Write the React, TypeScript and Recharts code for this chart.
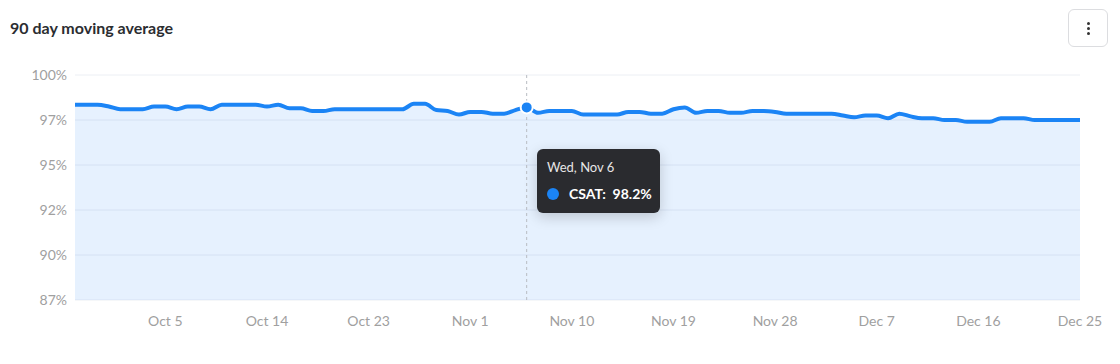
import { AreaChart, Area, XAxis, YAxis, CartesianGrid, Tooltip } from "recharts"

// 90 daily points, Sep 27 -> Dec 25 (2024)
const START = new Date(2024, 8, 27)
const MONTHS = ["Jan", "Feb", "Mar", "Apr", "May", "Jun", "Jul", "Aug", "Sep", "Oct", "Nov", "Dec"]
const WEEKDAYS = ["Sun", "Mon", "Tue", "Wed", "Thu", "Fri", "Sat"]

const csat = [
  98.35, 98.35, 98.35, 98.25, 98.1, 98.1, 98.1, 98.25, 98.25, 98.1,
  98.25, 98.25, 98.1, 98.35, 98.35, 98.35, 98.35, 98.25, 98.35, 98.15,
  98.15, 98.0, 98.0, 98.1, 98.1, 98.1, 98.1, 98.1, 98.1, 98.1,
  98.4, 98.4, 98.05, 98.0, 97.8, 97.95, 97.95, 97.85, 97.85, 98.05,
  98.2, 97.9, 98.0, 98.0, 98.0, 97.8, 97.8, 97.8, 97.8, 97.95,
  97.95, 97.85, 97.85, 98.1, 98.2, 97.9, 98.0, 98.0, 97.9, 97.9,
  98.0, 98.0, 97.95, 97.85, 97.85, 97.85, 97.85, 97.85, 97.75, 97.65,
  97.75, 97.75, 97.6, 97.85, 97.7, 97.6, 97.6, 97.5, 97.5, 97.4,
  97.4, 97.4, 97.6, 97.6, 97.6, 97.5, 97.5, 97.5, 97.5, 97.5,
]

const xTicks = ["Oct 5", "Oct 14", "Oct 23", "Nov 1", "Nov 10", "Nov 19", "Nov 28", "Dec 7", "Dec 16", "Dec 25"]
const yTicks = [87.5, 90, 92.5, 95, 97.5, 100]

const data = csat.map((value, i) => {
  const d = new Date(START.getFullYear(), START.getMonth(), START.getDate() + i)
  const label = `${MONTHS[d.getMonth()]} ${d.getDate()}`
  return { date: label, full: `${WEEKDAYS[d.getDay()]}, ${label}`, csat: value }
})

const BLUE = "#1b84f5"

function CsatTooltip({ active, payload }: any) {
  if (!active || !payload || !payload.length) return null
  const p = payload[0]
  return (
    <div
      style={{
        background: "#2a2b2f",
        borderRadius: 6,
        padding: "10px 10px",
        width: 123,
        height: 64,
        boxSizing: "border-box",
        boxShadow: "0 4px 14px rgba(0,0,0,0.18)",
        fontFamily: "Lato, sans-serif",
      }}
    >
      <div style={{ color: "#e6e6e6", fontSize: 13, lineHeight: "16px" }}>{p.payload.full}</div>
      <div style={{ display: "flex", alignItems: "center", marginTop: 10 }}>
        <span
          style={{ width: 12, height: 12, flex: "0 0 12px", borderRadius: "50%", background: BLUE, marginRight: 10 }}
        />
        <span style={{ color: "#fff", fontSize: 14, fontWeight: 700, whiteSpace: "pre" }}>
          {`CSAT:  ${p.value.toFixed(1)}%`}
        </span>
      </div>
    </div>
  )
}

export default function App() {
  return (
    <div
      style={{
        position: "absolute",
        left: 0,
        top: 0,
        width: 1120,
        height: 364,
        background: "#fff",
        fontFamily: "Lato, sans-serif",
      }}
    >
      <div style={{ position: "absolute", left: 10, top: 18, fontSize: 16, fontWeight: 700, color: "#2b2d31" }}>
        90 day moving average
      </div>
      <div
        style={{
          position: "absolute",
          left: 1068,
          top: 9,
          width: 40,
          height: 38,
          boxSizing: "border-box",
          border: "1px solid #dcdde0",
          borderRadius: 6,
          display: "flex",
          flexDirection: "column",
          alignItems: "center",
          justifyContent: "center",
          gap: 2,
        }}
      >
        {[0, 1, 2].map((k) => (
          <span key={k} style={{ width: 3, height: 3, borderRadius: 2, background: "#333" }} />
        ))}
      </div>
      <div style={{ position: "absolute", left: 0, top: 0 }}>
        <AreaChart width={1120} height={364} data={data} margin={{ top: 75, right: 40, bottom: 34, left: 0 }}>
          <CartesianGrid vertical={false} stroke="#eceff4" />
          <XAxis
            dataKey="date"
            ticks={xTicks}
            interval={0}
            axisLine={false}
            tickLine={false}
            tickMargin={10}
            tick={{ fill: "#a0a0a0", fontSize: 14 }}
          />
          <YAxis
            width={75}
            domain={[87.5, 100]}
            ticks={yTicks}
            axisLine={false}
            tickLine={false}
            tickFormatter={(v: number) => `${Math.floor(v)}%`}
            tick={{ fill: "#a0a0a0", fontSize: 14 }}
          />
          <Tooltip
            content={<CsatTooltip />}
            defaultIndex={40}
            active
            position={{ x: 537, y: 149 }}
            cursor={{ stroke: "#b8bcc2", strokeWidth: 1, strokeDasharray: "3 3" }}
            isAnimationActive={false}
            wrapperStyle={{ outline: "none" }}
          />
          <Area
            type="monotone"
            dataKey="csat"
            stroke={BLUE}
            strokeWidth={4}
            fill={BLUE}
            fillOpacity={0.11}
            dot={false}
            activeDot={{ r: 6, fill: BLUE, stroke: "#fff", strokeWidth: 2 }}
            isAnimationActive={false}
          />
        </AreaChart>
      </div>
    </div>
  )
}
